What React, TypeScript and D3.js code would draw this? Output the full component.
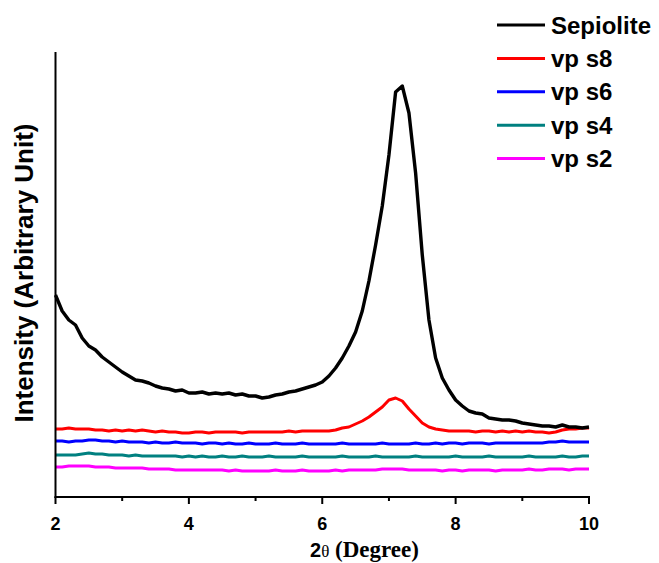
import React from "react";
import * as d3 from "d3";

const twoTheta: number[] = d3.range(0, 81).map((i) => +(2 + i * 0.1).toFixed(1));

const sepiolite = [
  202, 186, 177, 172, 159, 151, 147, 140, 135, 130,
  125, 121, 117, 116, 114, 111, 109, 108, 106, 107,
  104, 104, 105, 103, 104, 103, 104, 102, 103, 101,
  101, 99, 100, 102, 103, 105, 106, 108, 110, 112,
  115, 121, 129, 139, 151, 165, 186, 216, 252, 291,
  342, 405, 411, 384, 324, 242, 177, 139, 119, 107,
  97, 91, 86, 84, 83, 79, 78, 77, 77, 76,
  74, 73, 72, 71, 71, 70, 72, 70, 70, 69,
  70,
];

const vpS8 = [
  68, 68, 69, 68, 68, 68, 67, 67, 66, 67,
  66, 67, 66, 67, 66, 65, 66, 65, 65, 64,
  64, 65, 65, 64, 65, 65, 65, 65, 64, 65,
  65, 65, 65, 65, 65, 66, 65, 66, 66, 66,
  66, 66, 67, 69, 70, 73, 76, 80, 85, 90,
  97, 99, 96, 88, 81, 74, 70, 68, 67, 66,
  66, 66, 66, 65, 66, 66, 65, 66, 65, 66,
  65, 66, 65, 65, 64, 65, 67, 68, 68, 69,
  69,
];

const vpS6 = [
  56, 56, 55, 56, 56, 57, 57, 56, 56, 55,
  56, 55, 55, 55, 54, 55, 54, 54, 55, 54,
  54, 54, 53, 54, 54, 53, 54, 53, 53, 54,
  53, 53, 53, 54, 53, 53, 53, 54, 53, 53,
  53, 53, 53, 54, 53, 53, 53, 53, 53, 54,
  53, 53, 53, 53, 54, 53, 53, 54, 53, 54,
  54, 53, 54, 54, 54, 53, 54, 54, 54, 54,
  54, 54, 54, 54, 55, 55, 56, 55, 55, 55,
  55,
];

const vpS4 = [
  42, 42, 42, 42, 43, 44, 43, 43, 42, 42,
  42, 41, 42, 41, 41, 41, 41, 41, 41, 40,
  41, 40, 41, 40, 40, 41, 40, 40, 41, 40,
  40, 40, 41, 40, 40, 40, 40, 41, 40, 40,
  40, 40, 40, 41, 40, 40, 40, 40, 41, 40,
  40, 40, 40, 40, 41, 40, 40, 40, 40, 40,
  41, 40, 40, 40, 40, 41, 40, 40, 40, 40,
  40, 41, 40, 40, 40, 40, 41, 40, 40, 41,
  41,
];

const vpS2 = [
  30, 30, 31, 31, 31, 31, 30, 30, 30, 29,
  29, 29, 29, 29, 28, 28, 28, 28, 27, 27,
  27, 27, 27, 27, 27, 27, 26, 27, 26, 26,
  26, 26, 26, 27, 26, 26, 26, 27, 26, 26,
  26, 26, 27, 26, 27, 27, 27, 27, 27, 28,
  28, 28, 28, 27, 27, 27, 27, 27, 26, 27,
  27, 26, 27, 27, 27, 27, 26, 27, 27, 27,
  27, 28, 27, 27, 28, 28, 28, 27, 28, 28,
  28,
];

const seriesNames = ["Sepiolite", "vp s8", "vp s6", "vp s4", "vp s2"];
const seriesValues = [sepiolite, vpS8, vpS6, vpS4, vpS2];
const seriesColors = ["#000000", "#ff0000", "#0000ff", "#008080", "#ff00ff"];

const majorTicks = [2, 4, 6, 8, 10];
const minorTicks = [3, 5, 7, 9];

export default function App() {
  const W = 659;
  const H = 563;
  const x = d3.scaleLinear().domain([2, 10]).range([55.5, 589]);
  const y = d3.scaleLinear().domain([0, 445]).range([497, 52]);
  const line = d3
    .line<[number, number]>()
    .x((d) => x(d[0]))
    .y((d) => y(d[1]));

  const sans = "'Liberation Sans', Arial, sans-serif";
  const serif = "'Liberation Serif', 'Times New Roman', serif";

  return (
    <svg
      width={W}
      height={H}
      style={{ position: "absolute", left: 0, top: 0, background: "#fff" }}
    >
      {/* series (draw bottom first so black is on top) */}
      {seriesValues
        .map((vals, i) => ({ vals, i }))
        .reverse()
        .map(({ vals, i }) => (
          <path
            key={seriesNames[i]}
            d={line(twoTheta.map((t, k) => [t, vals[k]] as [number, number])) || ""}
            fill="none"
            stroke={seriesColors[i]}
            strokeWidth={i === 0 ? 3.4 : 3}
            strokeLinejoin="round"
          />
        ))}

      {/* axes */}
      <line x1={x(2)} x2={x(2)} y1={y(445)} y2={y(0) + 1} stroke="#000" strokeWidth={2} />
      <line x1={x(2) - 1} x2={x(10) + 1} y1={y(0)} y2={y(0)} stroke="#000" strokeWidth={2} />
      {majorTicks.map((t) => (
        <g key={"M" + t}>
          <line x1={x(t)} x2={x(t)} y1={y(0)} y2={y(0) + 7} stroke="#000" strokeWidth={2} />
          <text
            x={x(t)}
            y={530}
            textAnchor="middle"
            fontFamily={sans}
            fontWeight="bold"
            fontSize={18}
          >
            {t}
          </text>
        </g>
      ))}
      {minorTicks.map((t) => (
        <line key={"m" + t} x1={x(t)} x2={x(t)} y1={y(0)} y2={y(0) + 4} stroke="#000" strokeWidth={2} />
      ))}

      {/* x title */}
      <text x={310} y={557} fill="#000">
        <tspan fontFamily={sans} fontWeight="bold" fontSize={20}>2</tspan>
        <tspan fontFamily={serif} fontSize={17}>θ</tspan>
        <tspan fontFamily={serif} fontWeight="bold" fontSize={23}> (Degree)</tspan>
      </text>

      {/* y title */}
      <text
        transform={`translate(33, 273) rotate(-90)`}
        textAnchor="middle"
        fontFamily={sans}
        fontWeight="bold"
        fontSize={26}
      >
        Intensity (Arbitrary Unit)
      </text>

      {/* legend */}
      {seriesNames.map((name, i) => {
        const cy = 25 + i * 33.4;
        return (
          <g key={"leg" + name}>
            <line x1={497} x2={545} y1={cy} y2={cy} stroke={seriesColors[i]} strokeWidth={3} />
            <text x={551} y={cy + 8.5} fontFamily={sans} fontWeight="bold" fontSize={24}>
              {name}
            </text>
          </g>
        );
      })}
    </svg>
  );
}
